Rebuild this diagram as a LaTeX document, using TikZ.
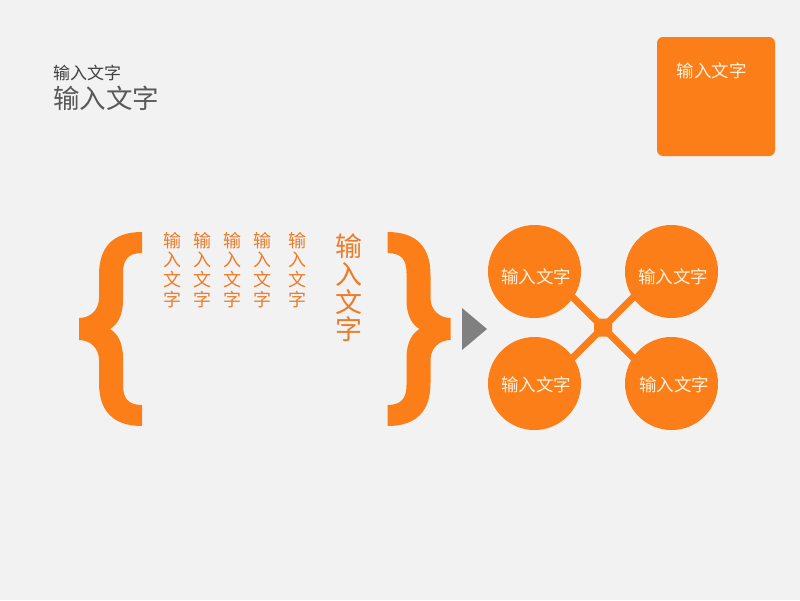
\documentclass[tikz,border=0pt]{standalone}
\usepackage{fontspec}
\usetikzlibrary{calc}
\newfontfamily\cjk{Noto Sans CJK SC}
\definecolor{bgc}{RGB}{242,242,242}
\definecolor{org}{RGB}{252,126,24}
\definecolor{orgtxt}{RGB}{236,124,40}
\definecolor{cream}{RGB}{255,242,222}
\definecolor{darkg}{RGB}{64,64,64}
\definecolor{midg}{RGB}{89,89,89}
\definecolor{arrowg}{RGB}{128,128,128}
\tikzset{
  bubble/.style={circle, fill=org, minimum size=93pt, inner sep=0pt},
  btext/.style={inner sep=0pt, text=cream, font=\cjk\fontsize{17.5}{19}\selectfont},
  hub/.style={rectangle, fill=org, minimum size=18pt, inner sep=0pt, rounded corners=1.5pt},
  link/.style={draw=org, line width=7pt},
  vcol/.style={anchor=north, inner sep=0pt, align=center, text=orgtxt, font=\cjk\fontsize{18}{19.6}\selectfont},
  vbig/.style={anchor=north, inner sep=0pt, align=center, text=orgtxt, font=\cjk\fontsize{27}{27.6}\selectfont},
}
\newcommand{\bracepath}{%
  (142,232) .. controls (112,232) and (99,248) .. (99,275)
  -- (99,298) .. controls (99,310) and (90,318) .. (79,318)
  -- (79,340) .. controls (90,340) and (99,348) .. (99,360)
  -- (99,383) .. controls (99,410) and (112,426) .. (142,426)
  -- (142,405) .. controls (128,405) and (123,398) .. (123,385)
  -- (123,358) .. controls (123,342) and (117,333) .. (110,329)
  .. controls (117,325) and (123,316) .. (123,300)
  -- (123,273) .. controls (123,260) and (128,253) .. (142,253) -- cycle}
\begin{document}
\begin{tikzpicture}[x=1pt,y=-1pt]
\fill[bgc] (0,0) rectangle (800,600);
\useasboundingbox (0,0) rectangle (800,600);

% title texts
\node[anchor=west, inner sep=0pt, text=darkg, font=\cjk\fontsize{17}{19}\selectfont] (t1) at (53,73) {输入文字};
\node[anchor=west, inner sep=0pt, text=midg, font=\cjk\fontsize{26.5}{28}\selectfont] (t2) at (53,98) {输入文字};

% orange box
\node[fill=org, rounded corners=6pt, minimum width=118pt, minimum height=119pt, inner sep=0pt] (box) at (716,96.5) {};
\node[btext] (boxt) at (711.5,71) {输入文字};

% braces
\fill[org] \bracepath;
\begin{scope}[xshift=529.5pt, xscale=-1]
\fill[org] \bracepath;
\end{scope}

% vertical texts
\node[vcol] (v1) at (172.5,232) {输\\入\\文\\字};
\node[vcol] (v2) at (202.5,232) {输\\入\\文\\字};
\node[vcol] (v3) at (232.5,232) {输\\入\\文\\字};
\node[vcol] (v4) at (262.5,232) {输\\入\\文\\字};
\node[vcol] (v5) at (297.5,232) {输\\入\\文\\字};
\node[vbig] (v6) at (349,234) {输\\入\\文\\字};

% arrow triangle
\fill[arrowg] (462,308) -- (487,329) -- (462,350) -- cycle;

% hub and links
\node[hub] (h) at (603,327.5) {};
\coordinate (k1) at ($(h)+(-50,-50)$);
\coordinate (k2) at ($(h)+(50,-50)$);
\coordinate (k3) at ($(h)+(-50,50)$);
\coordinate (k4) at ($(h)+(50,50)$);
\draw[link] (h.center) -- (k1);
\draw[link] (h.center) -- (k2);
\draw[link] (h.center) -- (k3);
\draw[link] (h.center) -- (k4);

% bubbles
\node[bubble] (c1) at (534.5,271.5) {};
\node[bubble] (c2) at (671.5,271.5) {};
\node[bubble] (c3) at (534.5,383.5) {};
\node[bubble] (c4) at (671.5,383.5) {};
\node[btext] (c1t) at (536,277) {输入文字};
\node[btext] (c2t) at (673,277) {输入文字};
\node[btext] (c3t) at (536,385) {输入文字};
\node[btext] (c4t) at (674,385) {输入文字};
\end{tikzpicture}
\end{document}
